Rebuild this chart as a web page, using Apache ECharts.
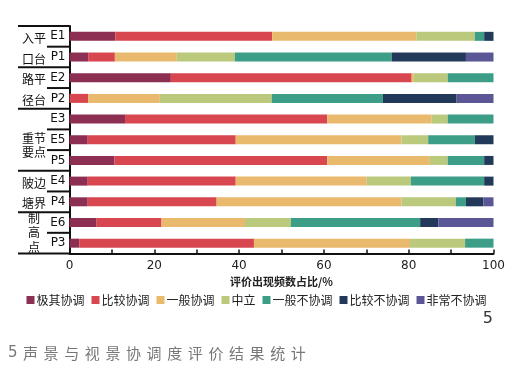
<!DOCTYPE html>
<html><head><meta charset="utf-8">
<script src="https://cdn.jsdelivr.net/npm/echarts@6/dist/echarts.min.js"></script>
<style>html,body{margin:0;padding:0;background:#fff}#c{width:513px;height:369px}</style>
</head><body><div id="c"></div>
<script>
var categories = ['E1','P1','E2','P2','E3','E5','P5','E4','P4','E6','P3'];
var seriesNames = ['极其协调','比较协调','一般协调','中立','一般不协调','比较不协调','非常不协调'];
var colors = ['#8c2f52','#d8464f','#e9b96d','#bac97c','#3d9e88','#23395a','#5b5797'];
var v1 = [10.8, 4.4, 23.9, 0,    13.1, 4.3,  10.6, 4.3,  4.3,  6.4,  2.3];
var v2 = [37.0, 6.3, 56.8, 4.4,  47.7, 34.9, 50.2, 34.9, 30.4, 15.3, 41.2];
var v3 = [34.0, 14.6, 0.5, 16.9, 24.6, 39.1, 24.2, 30.9, 43.6, 19.7, 36.8];
var v4 = [13.8, 13.7, 8.0, 26.4, 3.8,  6.3,  4.2,  10.4, 12.8, 10.8, 13.0];
var v5 = [2.2,  37.0, 10.8, 26.2, 10.8, 11.0, 8.6, 17.3, 2.4,  30.5, 6.7];
var v6 = [2.2,  17.5, 0,   17.4, 0,    4.4,  2.2,  2.2,  4.1,  4.3,  0];
var v7 = [0,    6.5,  0,   8.7,  0,    0,    0,    0,    2.4,  13.0, 0];
var values = [v1,v2,v3,v4,v5,v6,v7];
var xTicks = [0,20,40,60,80,100];
var xName = '评价出现频数占比/%';
var groupNames = ['入平\n口台','路平\n径台','重节\n要点','陂边\n塘界','制\n高\n点'];
var groupSizes = [2,2,3,2,2];
var figNo = '5';
var captionNo = '5';
var caption = '声景与视景协调度评价结果统计';

var FONT = '"Noto Sans CJK SC", "Noto Sans", sans-serif';
var chart = echarts.init(document.getElementById('c'));
var series = seriesNames.map(function(n,i){
  return {name:n,type:'bar',stack:'all',barWidth:9,data:values[i],
    itemStyle:{color:colors[i]},emphasis:{disabled:true}};
});
chart.setOption({
  animation:false,
  textStyle:{fontFamily:FONT},
  grid:{left:69.5,right:19.5,top:26,bottom:115.5,containLabel:false},
  legend:{data:seriesNames,top:289,left:'center',icon:'rect',itemWidth:8,itemHeight:8,itemGap:7,
    textStyle:{fontSize:12,color:'#222',fontFamily:FONT,padding:[0,0,0,-3]}},
  xAxis:{type:'value',min:0,max:100,interval:10,
    name:xName,nameLocation:'middle',nameGap:17,
    nameTextStyle:{fontSize:11,fontWeight:'bold',color:'#222',fontFamily:FONT},
    axisLine:{show:true,lineStyle:{color:'#111',width:2}},
    axisTick:{show:true,inside:true,length:4,lineStyle:{color:'#111',width:1.5}},
    splitLine:{show:false},
    axisLabel:{fontSize:12,color:'#222',margin:6,fontFamily:'"DejaVu Sans", sans-serif',
      formatter:function(v){return xTicks.indexOf(v)>=0?String(v):'';}}},
  yAxis:{type:'category',data:categories,inverse:true,
    axisLine:{show:true,lineStyle:{color:'#111',width:2}},
    axisTick:{show:false},
    axisLabel:{fontSize:12,color:'#111',margin:4,fontFamily:'"DejaVu Sans", sans-serif'}},
  series:series
});

var els = [];
var yTop = 26, yBot = 369-115.5;
var band = (yBot-yTop)/categories.length;
var xLeft = 69.5;
function lineEl(x1,y,x2){return {type:'line',shape:{x1:x1,y1:y,x2:x2,y2:y},style:{stroke:'#111',lineWidth:2},silent:true};}
var lineHeights = [band, band, 14, band, 14.5];
var offs = [2, 2, 6, 2, 0];
var idx = 0;
els.push(lineEl(18, yTop, xLeft));
for (var g=0; g<groupNames.length; g++){
  var s = idx, e = idx+groupSizes[g]-1;
  var yS = chart.convertToPixel({yAxisIndex:0}, categories[s]);
  var yE = chart.convertToPixel({yAxisIndex:0}, categories[e]);
  for (var k=s; k<e; k++){
    var yk = chart.convertToPixel({yAxisIndex:0}, categories[k]) + band/2;
    els.push(lineEl(47, yk, xLeft));
  }
  els.push(lineEl(18, yE + band/2, xLeft));
  els.push({type:'text',x:34,y:(yS+yE)/2+offs[g],silent:true,
    style:{text:groupNames[g],fontSize:12,fontFamily:FONT,fill:'#111',align:'center',verticalAlign:'middle',lineHeight:lineHeights[g]}});
  idx = e+1;
}
els.push({type:'text',x:493,y:319,silent:true,style:{text:figNo,fontSize:16,fill:'#333',fontFamily:'"DejaVu Sans", sans-serif',align:'right',verticalAlign:'middle'}});
els.push({type:'text',x:8,y:353,silent:true,style:{text:captionNo,fontSize:15,fill:'#777',fontFamily:'"DejaVu Sans", sans-serif',align:'left',verticalAlign:'middle'}});
var chars = caption.split('');
for (var i=0;i<chars.length;i++){
  els.push({type:'text',x:23+i*20.6,y:353,silent:true,style:{text:chars[i],fontSize:15,fill:'#777',fontFamily:FONT,align:'left',verticalAlign:'middle'}});
}
chart.setOption({graphic:{elements:els}});
</script></body></html>
